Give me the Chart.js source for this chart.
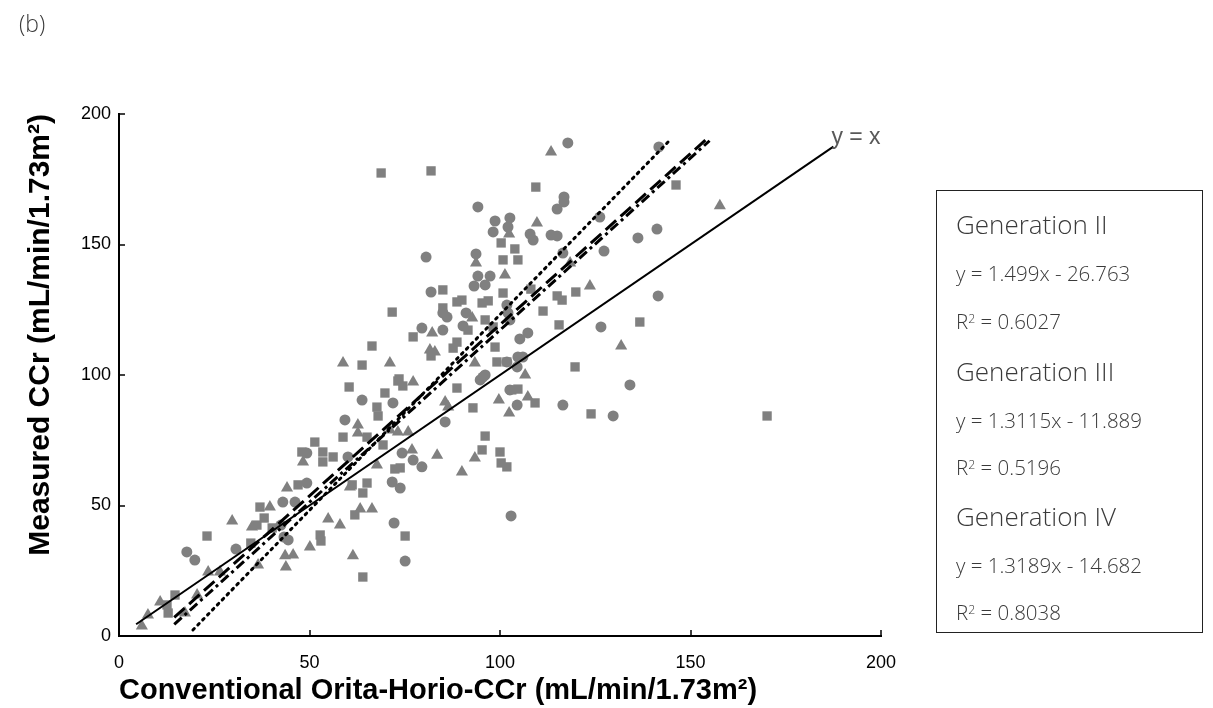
<!DOCTYPE html>
<html><head><meta charset="utf-8">
<script src="https://cdn.jsdelivr.net/npm/chart.js@4/dist/chart.umd.min.js"></script>
<style>
html,body{margin:0;padding:0;background:#fff;}
#wrap{position:relative;width:1213px;height:708px;overflow:hidden;}
#c{position:absolute;left:0;top:0;}
.t{position:absolute;font-family:'Open Sans','Noto Sans',sans-serif;font-weight:300;color:#3a3a3a;white-space:nowrap;}
#box{position:absolute;left:936px;top:190px;width:267px;height:443px;border:1px solid #222;box-sizing:border-box;}
sup{font-size:60%;vertical-align:top;position:relative;top:-2px;}
</style></head><body>
<div id="wrap"><canvas id="c" width="1213" height="708"></canvas>
<div class="t" style="left:19px;top:7px;font-size:23px;">(b)</div>
<div id="box"></div>
</div>
<script>
// ---- data ----
const xTicks = [0, 50, 100, 150, 200];
const yTicks = [0, 50, 100, 150, 200];
const trendNames = ['Generation II', 'Generation III', 'Generation IV'];
const trendEquations = ['y = 1.499x - 26.763', 'y = 1.3115x - 11.889', 'y = 1.3189x - 14.682'];
const trendR2 = ['0.6027', '0.5196', '0.8038'];
const slopes = [1.499, 1.3115, 1.3189];
const intercepts = [-26.763, -11.889, -14.682];
const trendXStart = [19.4, 14.5, 14.5];
const trendXEnd = [144.1, 155, 155];
const identityRange = [4.5, 187.5];

const genII = [[117.8,188.9],[141.7,187.4],[94.2,164.4],[98.7,159.0],[102.6,160.2],[102.1,156.7],[98.2,154.8],[107.9,154.0],[108.7,151.7],[113.4,153.6],[115.0,153.3],[115.0,163.6],[116.8,168.2],[116.8,166.3],[126.2,160.5],[136.2,152.5],[141.2,155.9],[116.5,146.7],[127.3,147.5],[80.6,145.2],[93.7,146.4],[94.2,137.9],[97.4,137.9],[93.2,134.1],[96.1,134.5],[81.9,131.8],[101.8,126.8],[141.5,130.3],[102.1,123.8],[102.6,121.1],[107.3,116.1],[105.2,113.8],[91.1,123.8],[85.0,123.8],[86.1,122.2],[79.5,118.0],[85.0,117.2],[90.3,118.8],[126.5,118.4],[104.7,106.9],[101.8,105.0],[106.0,106.9],[104.5,103.1],[96.1,100.0],[94.8,98.1],[95.5,99.2],[134.1,96.2],[104.5,88.5],[116.5,88.5],[129.7,84.3],[102.6,94.3],[85.6,82.0],[102.9,46.0],[72.2,43.3],[75.1,28.7],[63.8,90.4],[71.9,89.3],[59.3,82.8],[60.1,68.6],[74.3,70.1],[77.2,67.4],[79.5,64.8],[71.7,59.0],[73.8,56.7],[42.5,42.5],[43.3,37.9],[44.4,36.8],[43.0,51.3],[46.2,51.3],[49.3,58.6],[49.3,70.1],[17.8,32.2],[19.9,29.1],[30.7,33.3]];
const genIII = [[68.8,177.4],[81.9,178.2],[109.4,172.0],[146.2,172.8],[103.9,148.3],[104.7,144.1],[100.8,144.1],[100.3,150.6],[100.8,131.4],[108.1,132.9],[115.0,130.3],[116.3,128.7],[119.9,131.8],[111.3,124.5],[115.5,119.2],[136.7,120.3],[119.7,103.1],[109.2,89.3],[123.9,85.1],[170.1,84.3],[85.0,132.6],[88.7,128.0],[90.0,128.7],[96.9,128.4],[95.3,127.6],[71.7,124.1],[77.2,114.6],[66.4,111.1],[85.0,125.7],[91.6,117.2],[96.1,121.1],[98.2,118.4],[81.9,107.3],[87.7,110.3],[88.7,112.6],[63.8,103.8],[73.5,98.5],[98.7,110.7],[99.2,105.0],[101.8,105.0],[88.7,95.0],[92.9,87.4],[103.1,94.3],[104.7,94.6],[96.1,76.6],[95.3,71.3],[100.0,70.5],[100.3,66.3],[101.8,64.8],[69.8,93.1],[73.2,97.7],[74.5,95.8],[67.7,87.7],[68.0,84.3],[69.3,73.2],[60.4,95.4],[58.8,76.2],[65.1,76.2],[51.4,74.3],[48.0,70.5],[53.5,70.5],[53.5,66.7],[56.2,68.6],[72.4,64.0],[73.8,64.4],[65.1,58.6],[64.0,54.8],[61.2,57.9],[61.9,46.4],[75.1,38.3],[64.0,22.6],[52.8,38.7],[53.0,36.4],[47.0,57.9],[40.2,41.4],[36.2,42.5],[37.0,49.4],[38.1,45.2],[34.6,35.6],[23.1,38.3],[12.9,8.8],[12.6,11.9],[14.7,15.7]];
const genIV = [[113.4,185.4],[157.7,164.8],[109.7,158.2],[102.4,154.0],[93.7,142.9],[101.3,138.3],[118.4,142.9],[123.6,134.1],[131.8,111.1],[82.2,116.1],[92.7,121.8],[81.6,109.6],[82.9,108.8],[93.4,104.6],[106.6,100.0],[107.3,91.6],[99.7,90.4],[102.4,85.4],[85.6,89.7],[86.4,87.7],[83.5,69.3],[93.4,68.2],[90.0,62.8],[58.8,104.6],[71.1,104.6],[77.2,97.3],[62.7,80.8],[62.7,77.8],[71.1,78.9],[73.2,78.2],[75.9,78.2],[67.7,65.5],[48.3,66.7],[61.4,30.7],[63.3,48.7],[66.4,48.7],[54.9,44.8],[58.0,42.5],[50.1,34.1],[60.6,57.1],[43.6,30.7],[45.7,31.0],[43.8,26.4],[44.1,56.7],[39.6,49.4],[34.9,41.8],[36.5,27.2],[29.7,44.1],[23.4,24.5],[26.5,24.5],[20.5,15.7],[17.3,8.8],[10.8,13.0],[7.6,8.0],[6.0,3.8],[76.9,71.3]];

// ---- legend box (HTML text) ----
const legendCenters = [[225, 273, 321], [372, 420, 467], [517, 565, 612]];
const wrap = document.getElementById('wrap');
function addText(html, left, centerY, size) {
  const d = document.createElement('div');
  d.className = 't';
  d.style.left = left + 'px';
  d.style.fontSize = size + 'px';
  d.style.lineHeight = (size * 1.2) + 'px';
  d.style.top = (centerY - size * 0.6) + 'px';
  d.innerHTML = html;
  wrap.appendChild(d);
}
trendNames.forEach((n, i) => {
  addText(n, 956, legendCenters[i][0], 26);
  addText(trendEquations[i], 956, legendCenters[i][1], 20.5);
  addText('R<sup>2</sup> = ' + trendR2[i], 956, legendCenters[i][2], 20.5);
});

// ---- chart ----
const grey = '#808080';
const pts = arr => arr.map(p => ({x: p[0], y: p[1]}));
const trendStyles = [
  {borderDash: [2, 5], borderCapStyle: 'round', borderWidth: 3},
  {borderDash: [14, 6], borderCapStyle: 'butt', borderWidth: 3},
  {borderDash: [10, 4, 3, 4], borderCapStyle: 'butt', borderWidth: 3}
];
const trendSets = trendNames.map((n, i) => Object.assign({
  label: n + ' trend',
  data: [trendXStart[i], trendXEnd[i]].map(x => ({x: x, y: slopes[i] * x + intercepts[i]})),
  showLine: true, borderColor: '#000', pointRadius: 0, fill: false
}, trendStyles[i]));
const identitySet = {
  label: 'y = x', data: identityRange.map(v => ({x: v, y: v})),
  showLine: true, borderColor: '#000', borderWidth: 2, pointRadius: 0, fill: false
};
const markerSet = (label, arr, style, r) => ({
  label: label, data: pts(arr), pointStyle: style, pointRadius: r, pointHoverRadius: r,
  backgroundColor: grey, borderColor: grey, pointBorderWidth: 0, showLine: false
});

const innerTicks = {
  id: 'innerTicks',
  afterDatasetsDraw(chart) {
    const {ctx, chartArea: a, scales: {x, y}} = chart;
    ctx.save();
    ctx.strokeStyle = '#000'; ctx.lineWidth = 1.5;
    ctx.beginPath();
    xTicks.forEach(v => { const px = Math.round(x.getPixelForValue(v)); ctx.moveTo(px, a.bottom); ctx.lineTo(px, a.bottom - 6); });
    yTicks.forEach(v => { const py = Math.round(y.getPixelForValue(v)); ctx.moveTo(a.left, py); ctx.lineTo(a.left + 6, py); });
    ctx.stroke();
    const ex = x.getPixelForValue(identityRange[1]), ey = y.getPixelForValue(identityRange[1]);
    ctx.font = '23px "Liberation Sans", Arial, sans-serif';
    ctx.fillStyle = '#595959'; ctx.textAlign = 'left'; ctx.textBaseline = 'middle';
    ctx.fillText('y = x', ex - 2, ey - 9);
    ctx.restore();
  }
};

const tickFont = {family: '"Liberation Sans", Arial, sans-serif', size: 18};
const xTitleFont = {family: '"Liberation Sans", Arial, sans-serif', size: 29, weight: 'bold'};
const yTitleFont = {family: '"Liberation Sans", Arial, sans-serif', size: 30, weight: 'bold'};
new Chart(document.getElementById('c'), {
  type: 'scatter',
  data: {datasets: [...trendSets, identitySet,
    markerSet('Generation II', genII, 'circle', 5.5),
    markerSet('Generation III', genIII, 'rect', 6.6),
    markerSet('Generation IV', genIV, 'triangle', 7)]},
  options: {
    responsive: false, animation: false, devicePixelRatio: 1,
    events: [],
    layout: {padding: {left: 0, top: 114, right: 332, bottom: 0}},
    plugins: {legend: {display: false}, tooltip: {enabled: false}},
    scales: {
      x: {type: 'linear', min: 0, max: 200,
        afterBuildTicks: s => { s.ticks = xTicks.map(v => ({value: v})); },
        ticks: {color: '#000', font: tickFont, padding: 16, maxRotation: 0},
        grid: {display: false, drawTicks: false},
        border: {display: true, color: '#000', width: 2},
        title: {display: true, text: 'Conventional Orita-Horio-CCr (mL/min/1.73m²)', align: 'start', color: '#000', font: xTitleFont, padding: {top: 0, bottom: 0}},
        afterFit: s => { s.height = 72; }},
      y: {type: 'linear', min: 0, max: 200,
        afterBuildTicks: s => { s.ticks = yTicks.map(v => ({value: v})); },
        ticks: {color: '#000', font: tickFont, padding: 8},
        grid: {display: false, drawTicks: false},
        border: {display: true, color: '#000', width: 2},
        title: {display: true, text: 'Measured CCr (mL/min/1.73m²)', align: 'end', color: '#000', font: yTitleFont, padding: {top: 23, bottom: 0}},
        afterFit: s => { s.width = 119; }}
    }
  },
  plugins: [innerTicks]
});
</script>
</body></html>
